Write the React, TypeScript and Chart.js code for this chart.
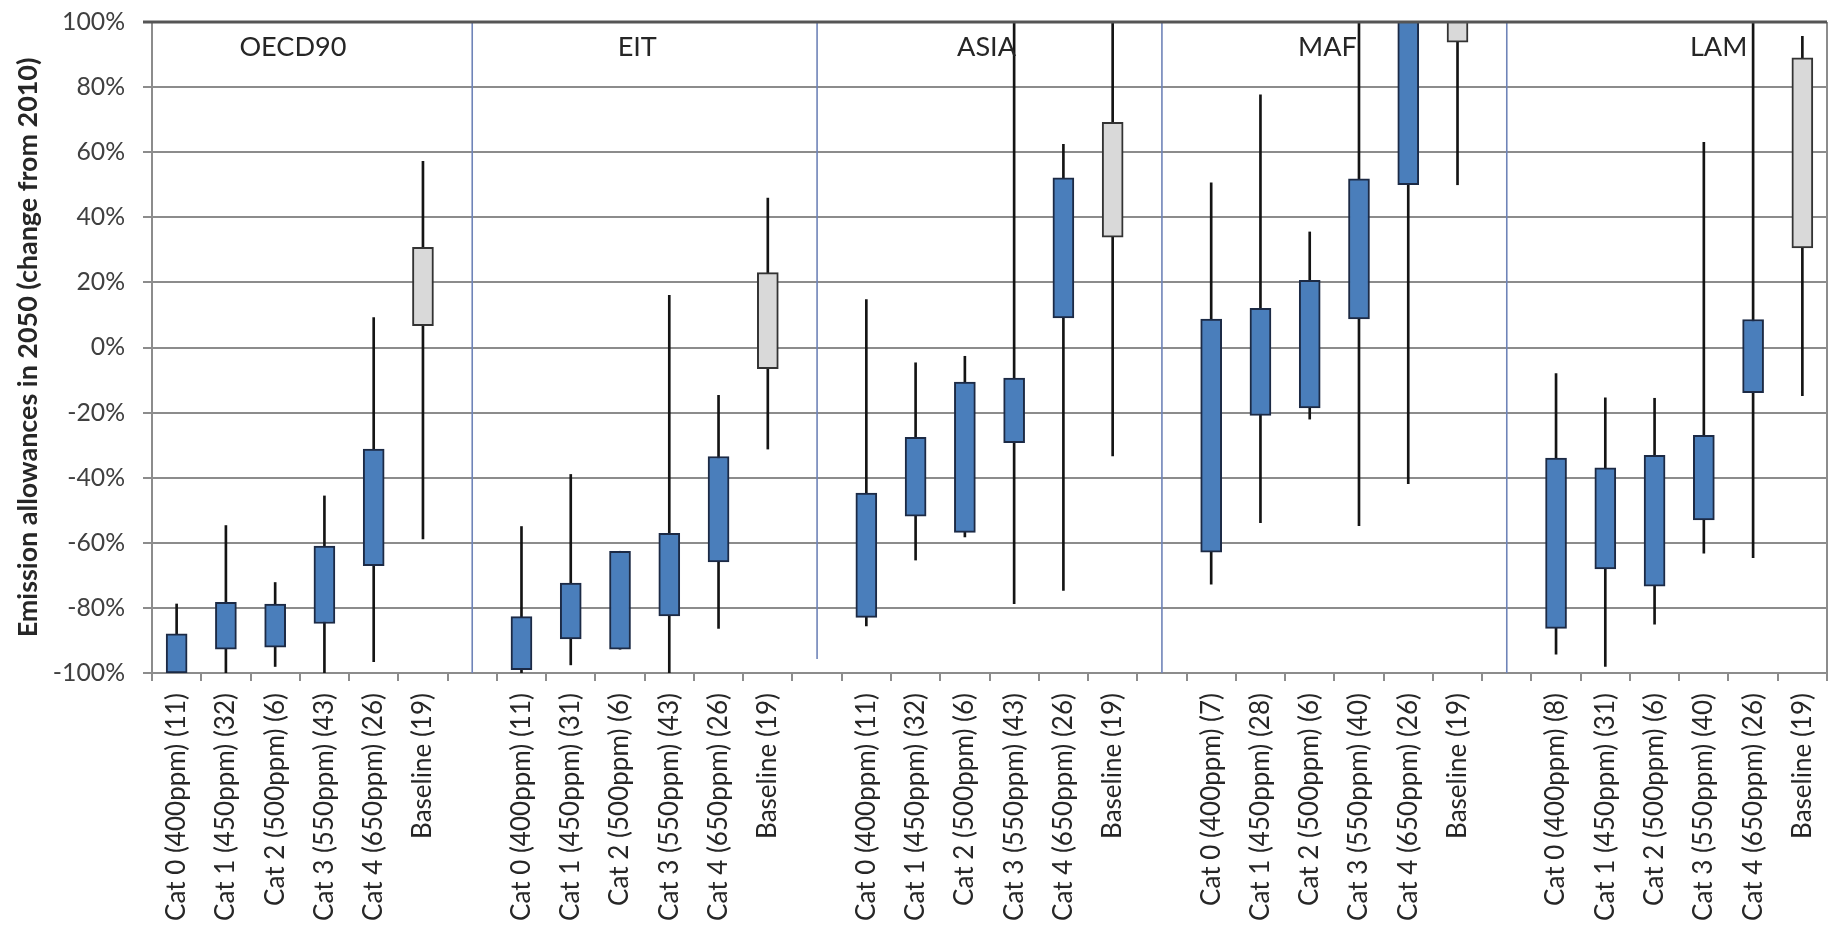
import React, { useEffect, useRef } from "react";
import { Chart, registerables } from "chart.js";

Chart.register(...registerables);

// ---------- data ----------
const regions = ["OECD90", "EIT", "ASIA", "MAF", "LAM"];
const categoryNames = [
  "Cat 0 (400ppm)",
  "Cat 1 (450ppm)",
  "Cat 2 (500ppm)",
  "Cat 3 (550ppm)",
  "Cat 4 (650ppm)",
  "Baseline",
];

const oecd90Counts = [11, 32, 6, 43, 26, 19];
const eitCounts = [11, 31, 6, 43, 26, 19];
const asiaCounts = [11, 32, 6, 43, 26, 19];
const mafCounts = [7, 28, 6, 40, 26, 19];
const lamCounts = [8, 31, 6, 40, 26, 19];

// values in % change from 2010 (min, box low, box high, max)
const oecd90Min = [-100, -100, -98, -100, -96.5, -58.8];
const oecd90Low = [-100, -92.7, -92.1, -84.8, -67, 6.7];
const oecd90High = [-88, -78.3, -78.8, -61, -31.2, 30.8];
const oecd90Max = [-78.8, -54.7, -72.2, -45.6, 9.2, 57.2];

const eitMin = [-100, -97.5, -92.7, -100, -86.3, -31.2];
const eitLow = [-99, -89.5, -92.7, -82.5, -65.9, -6.5];
const eitHigh = [-82.7, -72.4, -62.6, -57.1, -33.5, 23];
const eitMax = [-55, -39, -62.6, 16, -14.7, 45.9];

const asiaMin = [-85.5, -65.3, -58.2, -78.7, -74.6, -33.3];
const asiaLow = [-82.9, -51.8, -56.8, -29.2, 9.1, 33.9];
const asiaHigh = [-44.7, -27.6, -10.6, -9.4, 52.1, 69.2];
const asiaMax = [14.7, -4.7, -2.7, 120, 62.4, 120];

const mafMin = [-72.7, -53.8, -22, -54.7, -41.8, 50];
const mafLow = [-62.9, -20.9, -18.6, 8.8, 50, 93.8];
const mafHigh = [8.7, 12, 20.6, 51.8, 120, 120];
const mafMax = [50.6, 77.6, 35.5, 120, 120, 120];

const lamMin = [-94.2, -98, -85, -63.2, -64.6, -14.8];
const lamLow = [-86.3, -68, -73.3, -53, -13.9, 30.6];
const lamHigh = [-34, -37, -33.1, -27, 8.6, 89];
const lamMax = [-8, -15.5, -15.6, 63, 120, 95.6];

const yTickValues = [-100, -80, -60, -40, -20, 0, 20, 40, 60, 80, 100];
const yTitle = "Emission allowances in 2050 (change from 2010)";

// ---------- build ----------
const regionCounts = [oecd90Counts, eitCounts, asiaCounts, mafCounts, lamCounts];
const regionMin = [oecd90Min, eitMin, asiaMin, mafMin, lamMin];
const regionLow = [oecd90Low, eitLow, asiaLow, mafLow, lamLow];
const regionHigh = [oecd90High, eitHigh, asiaHigh, mafHigh, lamHigh];
const regionMax = [oecd90Max, eitMax, asiaMax, mafMax, lamMax];

const labels: string[] = [];
const whiskers: (number[] | null)[] = [];
const boxes: (number[] | null)[] = [];
const boxFill: string[] = [];
const boxBorder: string[] = [];
const gapIndex: number[] = [];

regions.forEach((_, g) => {
  categoryNames.forEach((name, i) => {
    labels.push(`${name} (${regionCounts[g][i]})`);
    whiskers.push([regionMin[g][i], regionMax[g][i]]);
    boxes.push([regionLow[g][i], regionHigh[g][i]]);
    const isBase = i === categoryNames.length - 1;
    boxFill.push(isBase ? "#d9d9d9" : "#4a7ebb");
    boxBorder.push(isBase ? "#333333" : "#1c2a45");
  });
  if (g < regions.length - 1) {
    gapIndex.push(labels.length);
    labels.push("");
    whiskers.push(null);
    boxes.push(null);
    boxFill.push("rgba(0,0,0,0)");
    boxBorder.push("rgba(0,0,0,0)");
  }
});

const separatorBottom = [-100, -95.7, -100, -100];
const regionLabelShift = [-0.14, -0.15, -0.06, -0.14, 0.8];

const FAMILY = "Lato, 'Open Sans', sans-serif";

function fitSize(text: string, weight: string, target: number) {
  const c = document.createElement("canvas").getContext("2d");
  if (!c) return 24;
  c.font = `${weight} 100px ${FAMILY}`;
  const w = c.measureText(text).width;
  return w > 0 ? (100 * target) / w : 24;
}

export default function App() {
  const ref = useRef<HTMLCanvasElement | null>(null);

  useEffect(() => {
    document.body.style.margin = "0";
    const canvas = ref.current;
    if (!canvas) return;

    const catSize = fitSize("Cat 0 (400ppm) (8)", "normal", 213);
    const ySize = fitSize("100%", "normal", 63);
    const regionSize = fitSize("OECD90", "normal", 107);
    const titleSize = fitSize(yTitle, "bold", 580);

    const decor = {
      id: "decor",
      beforeDatasetsDraw(chart: any) {
        const { ctx, chartArea, scales } = chart;
        const x = scales.x;
        const y = scales.y;
        ctx.save();
        ctx.strokeStyle = "#6f84b8";
        ctx.lineWidth = 1.6;
        gapIndex.forEach((idx, k) => {
          const px = x.getPixelForValue(idx);
          ctx.beginPath();
          ctx.moveTo(px, chartArea.top);
          ctx.lineTo(px, y.getPixelForValue(separatorBottom[k]));
          ctx.stroke();
        });
        ctx.restore();
      },
      afterDatasetsDraw(chart: any) {
        const { ctx, chartArea, scales } = chart;
        const x = scales.x;
        const y = scales.y;
        ctx.save();
        // right border
        ctx.strokeStyle = "#8c8c8c";
        ctx.lineWidth = 2;
        ctx.beginPath();
        ctx.moveTo(chartArea.right, chartArea.top);
        ctx.lineTo(chartArea.right, chartArea.bottom);
        ctx.stroke();
        // top border
        ctx.strokeStyle = "#555555";
        ctx.lineWidth = 3;
        ctx.beginPath();
        ctx.moveTo(chartArea.left - 9, chartArea.top);
        ctx.lineTo(chartArea.right, chartArea.top);
        ctx.stroke();
        // region labels
        ctx.fillStyle = "#262626";
        ctx.font = `normal ${regionSize}px ${FAMILY}`;
        ctx.textAlign = "center";
        ctx.textBaseline = "middle";
        regions.forEach((r, g) => {
          const center = g * (categoryNames.length + 1) + (categoryNames.length - 1) / 2 + regionLabelShift[g];
          ctx.fillText(r, x.getPixelForValue(center), y.getPixelForValue(92.2));
        });
        ctx.restore();
      },
    };

    const chart = new Chart(canvas, {
      type: "bar",
      data: {
        labels,
        datasets: [
          {
            label: "range",
            data: whiskers as any,
            backgroundColor: "#141414",
            borderWidth: 0,
            barThickness: 2,
            grouped: false,
            order: 2,
            clip: 0,
          } as any,
          {
            label: "box",
            data: boxes as any,
            backgroundColor: boxFill,
            borderColor: boxBorder,
            borderWidth: 2,
            borderSkipped: false,
            barThickness: 21,
            grouped: false,
            order: 1,
            clip: 0,
          } as any,
        ],
      },
      options: {
        responsive: true,
        maintainAspectRatio: false,
        animation: false,
        layout: { padding: { top: 22, right: 2, left: 0, bottom: 0 } },
        plugins: {
          legend: { display: false },
          tooltip: { enabled: false },
        },
        scales: {
          x: {
            grid: {
              drawOnChartArea: false,
              drawTicks: true,
              tickLength: 8,
              offset: true,
              color: "#8c8c8c",
              lineWidth: 2,
            },
            border: { color: "#8c8c8c", width: 2 },
            ticks: {
              autoSkip: false,
              minRotation: 90,
              maxRotation: 90,
              padding: 12,
              color: "#262626",
              font: { family: FAMILY, size: catSize },
            },
            afterFit: (s: any) => {
              s.height = 259;
              s.paddingLeft = 0;
              s.paddingRight = 0;
            },
          } as any,
          y: {
            min: -100,
            max: 100,
            afterBuildTicks: (s: any) => {
              s.ticks = yTickValues.map((v) => ({ value: v }));
            },
            ticks: {
              padding: 18,
              color: "#404040",
              font: { family: FAMILY, size: ySize },
              callback: (v: any) => `${v}%`,
            },
            grid: { color: "#8c8c8c", lineWidth: 2, tickLength: 9 },
            border: { color: "#8c8c8c", width: 2 },
            title: {
              display: true,
              text: yTitle,
              color: "#262626",
              font: { family: FAMILY, size: titleSize, weight: "bold" },
              padding: { top: 12, bottom: 0 },
            },
            afterFit: (s: any) => {
              s.width = 152;
              s.paddingTop = 0;
              s.paddingBottom = 0;
            },
          } as any,
        },
      },
      plugins: [decor as any],
    });

    return () => chart.destroy();
  }, []);

  return (
    <div
      style={{
        position: "fixed",
        left: 0,
        top: 0,
        width: "1829px",
        height: "932px",
        background: "#ffffff",
      }}
    >
      <canvas ref={ref} />
    </div>
  );
}
